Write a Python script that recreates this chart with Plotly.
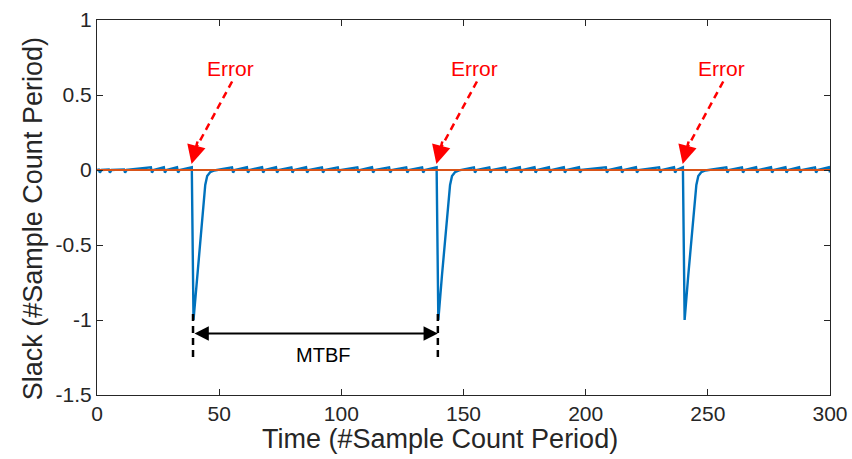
import plotly.graph_objects as go

# ---------------- data ----------------
# small sawtooth dips of the slack signal (time of dip, value just before dip)
dip_times = [1.2, 5.3, 11.5, 22.5, 27.8, 33.2,
             55.7, 61.8, 68.0, 73.7, 80.0, 86.0, 92.5, 99.0, 107.0, 113.0, 120.0, 127.0, 133.5,
             154.7, 161.0, 167.5, 173.5, 179.5, 185.4, 191.5, 197.7, 208.7, 214.9, 221.0, 230.5, 236.6,
             258.0, 264.4, 270.2, 276.3, 282.2, 287.8, 294.3, 300.0]
dip_peaks = [0.003, 0.003, 0.004, 0.018, 0.018, 0.018,
             0.018, 0.018, 0.018, 0.018, 0.018, 0.018, 0.018, 0.018, 0.018, 0.018, 0.018, 0.018, 0.018,
             0.018, 0.018, 0.018, 0.018, 0.018, 0.018, 0.018, 0.018, 0.018, 0.018, 0.018, 0.018, 0.018,
             0.018, 0.018, 0.018, 0.018, 0.018, 0.018, 0.018, 0.018]
dip_low = -0.017

# error events (time of the -1 minimum) and the recovery profile after each
error_times = [39.5, 139.7, 240.5]
err_offsets = [-0.7, 0.0, 1.5, 3.0, 4.0, 4.8, 5.6, 6.8, 8.5]
err_values = [0.018, -1.0, -0.7, -0.42, -0.22, -0.1, -0.04, -0.015, -0.003]

ref_times = [0, 300]
ref_values = [0, 0]

x_ticks = [0, 50, 100, 150, 200, 250, 300]
y_ticks = [-1.5, -1, -0.5, 0, 0.5, 1]
y_ticktext = ["-1.5", "-1", "-0.5", "0", "0.5", "1"]

x_title = "Time (#Sample Count Period)"
y_title = "Slack (#Sample Count Period)"

# annotation data
error_label = "Error"
error_label_dx, error_label_y = 15.0, 0.68
arrow_tail_dx, arrow_tail_y = 15.8, 0.59
arrow_tip_dx, arrow_tip_y = -0.8, 0.04
mtbf_start, mtbf_end, mtbf_y = 39.3, 139.5, -1.09
mtbf_tick_top, mtbf_tick_bot = -0.96, -1.28
mtbf_label, mtbf_label_x, mtbf_label_y = "MTBF", 92.5, -1.235

# ---------------- build signal vertices ----------------
events = [(t, "dip", p) for t, p in zip(dip_times, dip_peaks)] + [(t, "err", None) for t in error_times]
events.sort(key=lambda e: e[0])
xs, ys = [0.0], [0.0]
for t, kind, p in events:
    if kind == "dip":
        xs += [t - 0.45, t, t + 0.6]
        ys += [p, dip_low, 0.0]
    else:
        xs += [t + o for o in err_offsets]
        ys += list(err_values)
pts = [(a, b) for a, b in zip(xs, ys) if a <= 300]
xs = [a for a, _ in pts]
ys = [b for _, b in pts]

BLUE = "#0072BD"
ORANGE = "#D95319"
AX = "#262626"
FONT = "Liberation Sans, Arial, sans-serif"

fig = go.Figure()
fig.add_trace(go.Scatter(x=xs, y=ys, mode="lines", line=dict(color=BLUE, width=2.4),
                         hoverinfo="skip"))
fig.add_trace(go.Scatter(x=ref_times, y=ref_values, mode="lines",
                         line=dict(color=ORANGE, width=2), hoverinfo="skip"))

# dashed red arrows + labels
for t in error_times:
    tip_x = t + arrow_tip_dx
    fig.add_trace(go.Scatter(x=[t + arrow_tail_dx, tip_x + 1.6],
                             y=[arrow_tail_y, arrow_tip_y + 0.1],
                             mode="lines", line=dict(color="red", width=2.5, dash="7px,5px"),
                             hoverinfo="skip"))
    fig.add_annotation(x=tip_x, y=arrow_tip_y, ax=tip_x + 2.6, ay=arrow_tip_y + 0.16,
                       axref="x", ayref="y", xref="x", yref="y", text="",
                       showarrow=True, arrowhead=2, arrowsize=1.5, arrowwidth=2.5,
                       arrowcolor="red", standoff=0)
    fig.add_annotation(x=t + error_label_dx, y=error_label_y, text=error_label,
                       showarrow=False, font=dict(family=FONT, size=21, color="red"))

# MTBF double arrow
fig.add_annotation(x=mtbf_end, y=mtbf_y, ax=mtbf_start, ay=mtbf_y, axref="x", ayref="y",
                   xref="x", yref="y", text="", showarrow=True, arrowhead=2,
                   arrowside="end+start", arrowsize=1.3, arrowwidth=2.2,
                   arrowcolor="black", standoff=0, startstandoff=0)
for xv in (mtbf_start, mtbf_end):
    fig.add_trace(go.Scatter(x=[xv, xv], y=[mtbf_tick_top, mtbf_tick_bot], mode="lines",
                             line=dict(color="black", width=2.5, dash="7px,5px"),
                             hoverinfo="skip"))
fig.add_annotation(x=mtbf_label_x, y=mtbf_label_y, text=mtbf_label,
                   showarrow=False, font=dict(family=FONT, size=20, color="black"))

# axis titles as annotations (placed like the reference)
fig.add_annotation(x=0.468, y=-0.118, xref="paper", yref="paper", text=x_title,
                   showarrow=False, yanchor="middle",
                   font=dict(family=FONT, size=27, color=AX))
fig.add_annotation(x=-0.088, y=0.47, xref="paper", yref="paper", text=y_title,
                   showarrow=False, textangle=-90, xanchor="center",
                   font=dict(family=FONT, size=27, color=AX))

axis_common = dict(showline=True, linecolor=AX, linewidth=1, mirror="ticks",
                   ticks="inside", ticklen=6, tickcolor=AX, showgrid=False, zeroline=False,
                   automargin=False, tickfont=dict(family=FONT, size=21, color=AX))
fig.update_xaxes(range=[0, 300], tickvals=x_ticks, **axis_common)
fig.update_yaxes(range=[-1.5, 1], tickvals=y_ticks, ticktext=y_ticktext, **axis_common)
fig.update_layout(width=852, height=459, showlegend=False,
                  margin=dict(l=97, r=22, t=20, b=64),
                  plot_bgcolor="white", paper_bgcolor="white")
fig.write_html("out.html")
